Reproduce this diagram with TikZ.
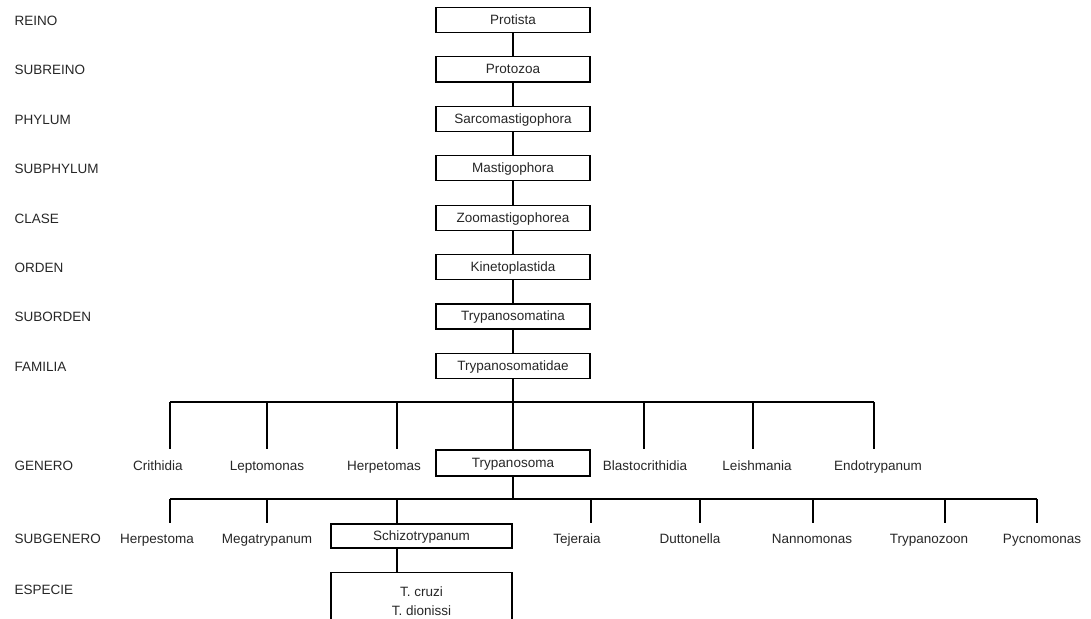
\documentclass[tikz,border=0pt]{standalone}
\usepackage{fontspec}
\setmainfont{Liberation Sans}
\usetikzlibrary{positioning}

\begin{document}
\begin{tikzpicture}[x=1pt,y=-1pt,line width=1.2pt]
\tikzstyle{every node}=[font=\fontsize{13.5}{19}\selectfont, text=black!85, inner sep=0pt]
\tikzstyle{rank}=[anchor=west, text height=10pt, text depth=1pt]
\tikzstyle{taxbox}=[draw, minimum width=154, minimum height=25, text height=10pt, text depth=1pt]
\tikzstyle{taxon}=[text height=10pt, text depth=1pt]
\useasboundingbox (0,0) rectangle (1091,618);
\clip (0,0) rectangle (1091,618);

% ranks
\node[rank] (rREI) at (14,21) {REINO};
\node[rank] (rSRE) at (14,70.4) {SUBREINO};
\node[rank] (rPHY) at (14,119.8) {PHYLUM};
\node[rank] (rSPH) at (14,169.2) {SUBPHYLUM};
\node[rank] (rCLA) at (14,218.6) {CLASE};
\node[rank] (rORD) at (14,268) {ORDEN};
\node[rank] (rSOR) at (14,317.4) {SUBORDEN};
\node[rank] (rFAM) at (14,366.8) {FAMILIA};
\node[rank] (rGEN) at (14,466) {GENERO};
\node[rank] (rSGE) at (14,539) {SUBGENERO};
\node[rank] (rESP) at (14,590) {ESPECIE};

% main line
\node[taxbox] (pro) at (513,20) {Protista};
\node[taxbox] (prz) at (513,69.4) {Protozoa};
\node[taxbox] (sar) at (513,118.8) {Sarcomastigophora};
\node[taxbox] (mas) at (513,168.2) {Mastigophora};
\node[taxbox] (zoo) at (513,217.6) {Zoomastigophorea};
\node[taxbox] (kin) at (513,267) {Kinetoplastida};
\node[taxbox] (tna) at (513,316.4) {Trypanosomatina};
\node[taxbox] (fam) at (513,365.8) {Trypanosomatidae};
\draw (pro) -- (prz) -- (sar) -- (mas) -- (zoo) -- (kin) -- (tna) -- (fam);

% genero
\node[taxon] (cri) at (158,466) {Crithidia};
\node[taxon] (lep) at (267,466) {Leptomonas};
\node[taxon] (her) at (384,466) {Herpetomas};
\node[taxbox, minimum height=26] (tryp) at (513,463) {Trypanosoma};
\node[taxon] (bla) at (645,466) {Blastocrithidia};
\node[taxon] (lei) at (757,466) {Leishmania};
\node[taxon] (endo) at (878,466) {Endotrypanum};
\coordinate (gL) at (170,402);
\coordinate (gR) at (874,402);
\coordinate (cri-d) at (170,449);
\coordinate (lep-d) at (267,449);
\coordinate (her-d) at (397,449);
\coordinate (bla-d) at (644,449);
\coordinate (lei-d) at (753,449);
\coordinate (endo-d) at (874,449);
\draw (gL) -- (gR);
\draw (fam) -- (fam.south |- gL) -- (tryp);
\draw (cri-d |- gL) -- (cri-d) (lep-d |- gL) -- (lep-d) (her-d |- gL) -- (her-d);
\draw (bla-d |- gL) -- (bla-d) (lei-d |- gL) -- (lei-d) (endo-d |- gL) -- (endo-d);

% subgenero
\node[taxon] (hpt) at (157,539) {Herpestoma};
\node[taxon] (meg) at (267,539) {Megatrypanum};
\node[taxbox, minimum width=181, minimum height=24] (sch) at (421.5,536) {Schizotrypanum};
\node[taxon] (tej) at (577,539) {Tejeraia};
\node[taxon] (dut) at (690,539) {Duttonella};
\node[taxon] (nan) at (812,539) {Nannomonas};
\node[taxon] (tpz) at (929,539) {Trypanozoon};
\node[taxon] (pyc) at (1042,539) {Pycnomonas};
\coordinate (sL) at (170,499);
\coordinate (sR) at (1037,499);
\coordinate (hpt-d) at (170,523);
\coordinate (meg-d) at (267,523);
\coordinate (sch-d) at (397,523);
\coordinate (tej-d) at (591,523);
\coordinate (dut-d) at (700,523);
\coordinate (nan-d) at (813,523);
\coordinate (tpz-d) at (945,523);
\coordinate (pyc-d) at (1037,523);
\draw (sL) -- (sR);
\draw (tryp.south -| fam.south) -- (fam.south |- sL);
\draw (hpt-d |- sL) -- (hpt-d) (meg-d |- sL) -- (meg-d) (sch-d |- sL) -- (sch-d);
\draw (tej-d |- sL) -- (tej-d) (dut-d |- sL) -- (dut-d) (nan-d |- sL) -- (nan-d);
\draw (tpz-d |- sL) -- (tpz-d) (pyc-d |- sL) -- (pyc-d);

% especie
\node[draw, anchor=north, minimum width=181, inner ysep=14pt, align=center] (esp) at (421.5,572) {T. cruzi\\T. dionissi};
\draw (sch.south -| sch-d) -- (esp.north -| sch-d);
\end{tikzpicture}
\end{document}
